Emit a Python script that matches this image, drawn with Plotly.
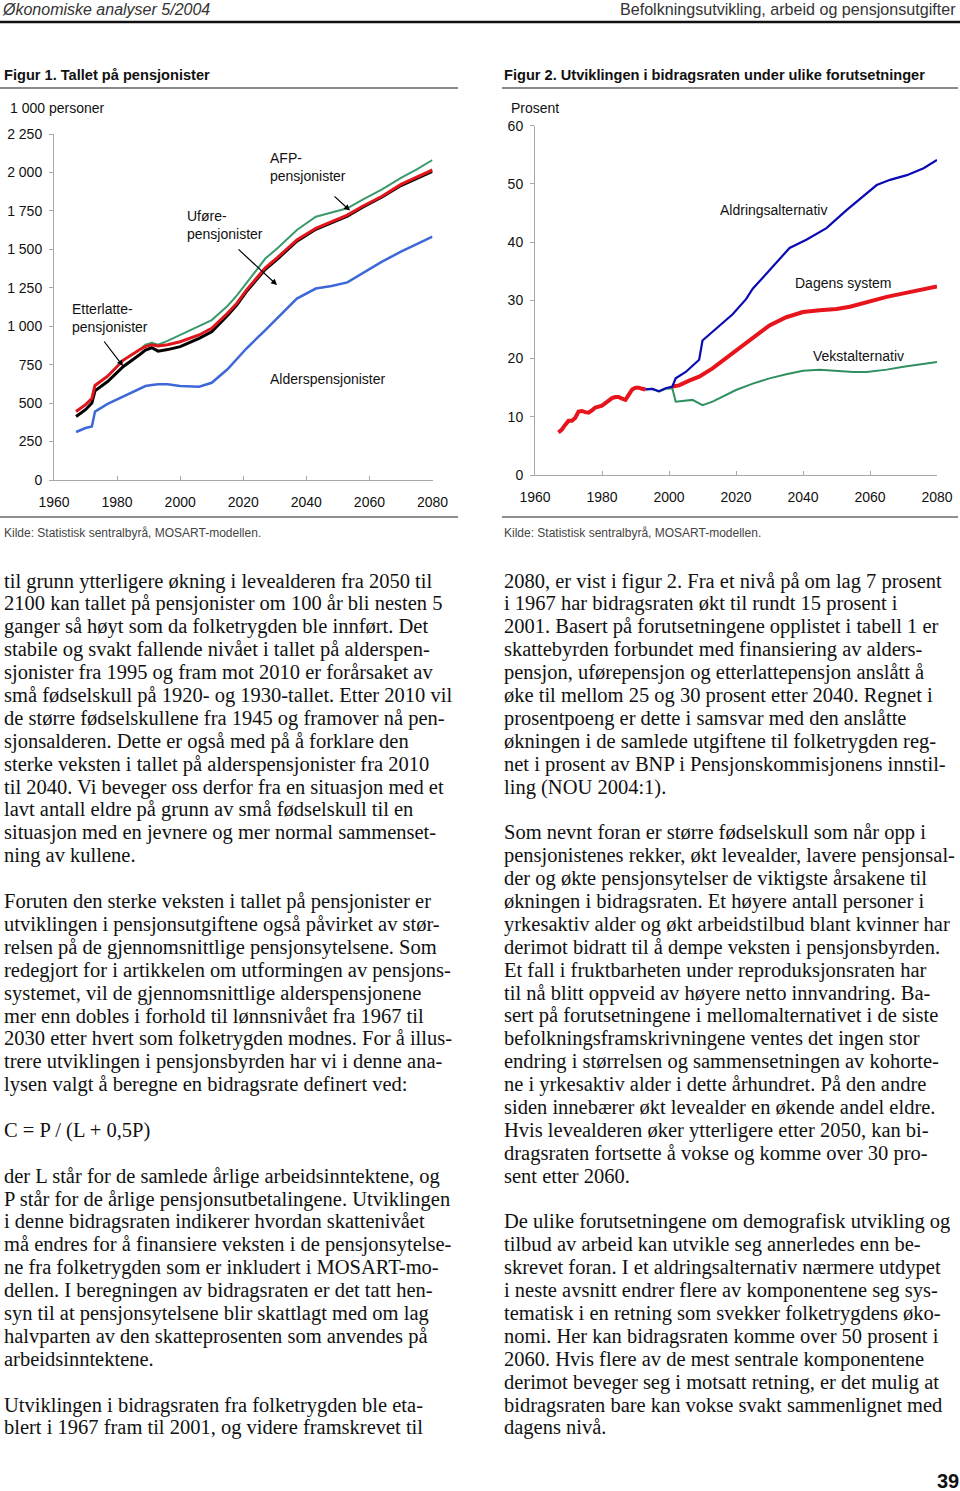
import plotly.graph_objects as go

W, H = 960, 1491

# ---------------- Figure 1 data (1000 persons, cumulative levels as drawn) ----------------
years1 = [1967, 1970, 1972, 1973, 1977, 1982, 1987, 1989, 1991, 1993, 1996, 2000, 2006, 2010,
          2015, 2018, 2021, 2027, 2031, 2037, 2043, 2048, 2053, 2058, 2064, 2070, 2075, 2080]
alders = [312, 338, 348, 445, 495, 545, 590, 611, 618, 622, 622, 612, 606, 632,
          720, 785, 855, 975, 1055, 1180, 1245, 1262, 1285, 1345, 1420, 1485, 1535, 1582]
ufore = [413, 457, 500, 580, 640, 738, 813, 845, 860, 838, 848, 867, 921, 964,
         1070, 1140, 1225, 1370, 1440, 1553, 1630, 1672, 1715, 1775, 1840, 1915, 1960, 2008]
etterlatte = [446, 490, 530, 615, 675, 780, 845, 868, 880, 872, 880, 899, 943, 986,
              1084, 1150, 1235, 1380, 1450, 1561, 1637, 1680, 1723, 1782, 1845, 1922, 1968, 2016]
afp = [446, 490, 530, 615, 675, 780, 845, 880, 893, 880, 905, 943, 997, 1040,
       1132, 1200, 1280, 1440, 1510, 1626, 1712, 1740, 1767, 1825, 1890, 1965, 2020, 2081]
ticks1 = [0, 250, 500, 750, 1000, 1250, 1500, 1750, 2000, 2250]
ticklabels1 = ["0", "250", "500", "750", "1 000", "1 250", "1 500", "1 750", "2 000", "2 250"]

# ---------------- Figure 2 data (percent) ----------------
years_dagens = [1967, 1968, 1969, 1970, 1971, 1972, 1973, 1974, 1975, 1976, 1977, 1978, 1980, 1981,
                1982, 1983, 1984, 1985, 1986, 1987, 1988, 1989, 1990, 1991, 1992, 1993, 1997,
                2001, 2003, 2006, 2009, 2013, 2020, 2025, 2030, 2035, 2040, 2045, 2050, 2054,
                2060, 2065, 2070, 2075, 2080]
dagens = [7.3, 7.8, 8.6, 9.3, 9.3, 9.8, 10.9, 11.0, 10.8, 10.7, 11.1, 11.6, 11.9, 12.3,
          12.9, 13.2, 13.4, 13.4, 13.1, 12.9, 13.8, 14.7, 15.0, 15.0, 14.8, 14.7, None,
          15.2, 15.4, 16.2, 16.9, 18.3, 21.4, 23.7, 25.7, 27.1, 28.0, 28.3, 28.5, 28.9,
          29.9, 30.6, 31.2, 31.8, 32.4]
years_aldring = [1993, 1995, 1997, 1999, 2001, 2002, 2005, 2009, 2010, 2013, 2019, 2023, 2025,
                 2031, 2036, 2041, 2047, 2053, 2058, 2062, 2066, 2071, 2076, 2080]
aldring = [14.7, 14.8, 14.4, 14.9, 15.2, 16.6, 17.7, 19.8, 23.1, 24.6, 27.6, 30.2, 32.0,
           35.8, 39.0, 40.4, 42.4, 45.5, 47.8, 49.8, 50.7, 51.5, 52.7, 54.1]
years_vekst = [1993, 1995, 1997, 1999, 2001, 2002, 2007, 2010, 2013, 2020, 2025, 2030, 2035,
               2040, 2045, 2050, 2055, 2059, 2065, 2070, 2075, 2080]
vekst = [14.7, 14.8, 14.3, 14.8, 14.9, 12.6, 12.9, 12.0, 12.6, 14.6, 15.7, 16.6, 17.3,
         17.9, 18.1, 17.9, 17.7, 17.7, 18.1, 18.6, 19.0, 19.4]
ticks2 = [0, 10, 20, 30, 40, 50, 60]
xticks = [1960, 1980, 2000, 2020, 2040, 2060, 2080]


def px(x):
    return x / W


def py(y):
    return 1 - y / H


SANS = "Liberation Sans, Arial, sans-serif"
SERIF = "Liberation Serif, Times New Roman, serif"

fig = go.Figure()

# Figure 1 traces
fig.add_trace(go.Scatter(x=years1, y=afp, mode="lines", line=dict(color="#3b9a6b", width=2),
                         xaxis="x", yaxis="y", showlegend=False))
fig.add_trace(go.Scatter(x=years1, y=alders, mode="lines", line=dict(color="#3e68d8", width=2.5),
                         xaxis="x", yaxis="y", showlegend=False))
fig.add_trace(go.Scatter(x=years1, y=ufore, mode="lines", line=dict(color="#000000", width=3),
                         xaxis="x", yaxis="y", showlegend=False))
fig.add_trace(go.Scatter(x=years1, y=etterlatte, mode="lines", line=dict(color="#e0161d", width=3),
                         xaxis="x", yaxis="y", showlegend=False))

# Figure 2 traces
fig.add_trace(go.Scatter(x=years_vekst, y=vekst, mode="lines", line=dict(color="#2f8f5f", width=2),
                         xaxis="x2", yaxis="y2", showlegend=False))
fig.add_trace(go.Scatter(x=years_dagens, y=dagens, mode="lines", connectgaps=False,
                         line=dict(color="#e8141c", width=4), xaxis="x2", yaxis="y2", showlegend=False))
fig.add_trace(go.Scatter(x=years_aldring, y=aldring, mode="lines", line=dict(color="#0a0ab4", width=2.2),
                         xaxis="x2", yaxis="y2", showlegend=False))

axis_common = dict(showgrid=False, zeroline=False, showline=True, linecolor="#a8a8a8", linewidth=1,
                   tickcolor="#a8a8a8", ticklen=4, tickfont=dict(family=SANS, size=14, color="#111"),
                   fixedrange=True, automargin=False)

fig.update_layout(
    width=W, height=H, autosize=False,
    margin=dict(l=0, r=0, t=0, b=0, pad=0, autoexpand=False),
    paper_bgcolor="white", plot_bgcolor="white",
    xaxis=dict(domain=[px(54), px(432.5)], range=[1960, 2080], anchor="y",
               tickvals=xticks, ticks="inside", ticklabelstandoff=9, **axis_common),
    yaxis=dict(domain=[py(480), py(134)], range=[0, 2250], anchor="x",
               tickvals=ticks1, ticktext=ticklabels1, ticks="outside", ticklabelstandoff=4,
               **axis_common),
    xaxis2=dict(domain=[px(535), px(937)], range=[1960, 2080], anchor="y2",
                tickvals=xticks, ticks="inside", ticklabelstandoff=9, **axis_common),
    yaxis2=dict(domain=[py(475), py(125.7)], range=[0, 60], anchor="x2",
                tickvals=ticks2, ticks="outside", ticklabelstandoff=4, **axis_common),
)

shapes = []
# header rule
shapes.append(dict(type="line", xref="paper", yref="paper", x0=0, x1=1, y0=py(22), y1=py(22),
                   line=dict(color="#111", width=2.5)))
for x0, x1 in [(0, 458), (502, 958)]:
    shapes.append(dict(type="line", xref="paper", yref="paper", x0=px(x0), x1=px(x1),
                       y0=py(88), y1=py(88), line=dict(color="#8a8a8a", width=2)))
    shapes.append(dict(type="line", xref="paper", yref="paper", x0=px(x0), x1=px(x1),
                       y0=py(517), y1=py(517), line=dict(color="#6a6a6a", width=1.5)))
fig.update_layout(shapes=shapes)


def text(x, y, s, size=14, family=SANS, color="#111", anchor="left", bold=False, italic=False):
    if bold:
        s = "<b>" + s + "</b>"
    if italic:
        s = "<i>" + s + "</i>"
    fig.add_annotation(x=px(x), y=py(y), xref="paper", yref="paper", text=s, showarrow=False,
                       xanchor=anchor, yanchor="middle", align=anchor,
                       font=dict(family=family, size=size, color=color))


def arrow(x_tail, y_tail, x_head, y_head):
    fig.add_annotation(x=px(x_head), y=py(y_head), xref="paper", yref="paper", text="",
                       showarrow=True, ax=x_tail - x_head, ay=y_tail - y_head,
                       arrowhead=2, arrowsize=1, arrowwidth=1.2, arrowcolor="#000")


# header
text(0, 9, "Økonomiske analyser 5/2004", size=16, color="#333", italic=True)
text(958, 9, "Befolkningsutvikling, arbeid og pensjonsutgifter", size=16.1, color="#333", anchor="right")

# figure titles
text(2, 75, "Figur 1. Tallet på pensjonister", size=14.6, bold=True)
text(502, 75, "Figur 2. Utviklingen i bidragsraten under ulike forutsetninger", size=14.6, bold=True)

# axis titles
text(8, 108, "1 000 personer", size=14)
text(509, 108, "Prosent", size=14)

# figure 1 labels
text(268, 158, "AFP-", size=14)
text(268, 176, "pensjonister", size=14)
text(185, 216, "Uføre-", size=14)
text(185, 234, "pensjonister", size=14)
text(70, 309, "Etterlatte-", size=14)
text(70, 327, "pensjonister", size=14)
text(268, 379, "Alderspensjonister", size=14)
arrow(333, 195, 350, 210.5)
arrow(237, 248, 277, 285)
arrow(103, 340, 123, 366)

# figure 2 labels
text(773, 210, "Aldringsalternativ", size=14, anchor="center")
text(843, 283, "Dagens system", size=14, anchor="center")
text(858, 356, "Vekstalternativ", size=14, anchor="center")

# sources
text(2, 533, "Kilde: Statistisk sentralbyrå, MOSART-modellen.", size=12, color="#444")
text(502, 533, "Kilde: Statistisk sentralbyrå, MOSART-modellen.", size=12, color="#444")

left_col = [
    "til grunn ytterligere økning i levealderen fra 2050 til",
    "2100 kan tallet på pensjonister om 100 år bli nesten 5",
    "ganger så høyt som da folketrygden ble innført. Det",
    "stabile og svakt fallende nivået i tallet på alderspen-",
    "sjonister fra 1995 og fram mot 2010 er forårsaket av",
    "små fødselskull på 1920- og 1930-tallet. Etter 2010 vil",
    "de større fødselskullene fra 1945 og framover nå pen-",
    "sjonsalderen. Dette er også med på å forklare den",
    "sterke veksten i tallet på alderspensjonister fra 2010",
    "til 2040. Vi beveger oss derfor fra en situasjon med et",
    "lavt antall eldre på grunn av små fødselskull til en",
    "situasjon med en jevnere og mer normal sammenset-",
    "ning av kullene.",
    "",
    "Foruten den sterke veksten i tallet på pensjonister er",
    "utviklingen i pensjonsutgiftene også påvirket av stør-",
    "relsen på de gjennomsnittlige pensjonsytelsene. Som",
    "redegjort for i artikkelen om utformingen av pensjons-",
    "systemet, vil de gjennomsnittlige alderspensjonene",
    "mer enn dobles i forhold til lønnsnivået fra 1967 til",
    "2030 etter hvert som folketrygden modnes. For å illus-",
    "trere utviklingen i pensjonsbyrden har vi i denne ana-",
    "lysen valgt å beregne en bidragsrate definert ved:",
    "",
    "C = P / (L + 0,5P)",
    "",
    "der L står for de samlede årlige arbeidsinntektene, og",
    "P står for de årlige pensjonsutbetalingene. Utviklingen",
    "i denne bidragsraten indikerer hvordan skattenivået",
    "må endres for å finansiere veksten i de pensjonsytelse-",
    "ne fra folketrygden som er inkludert i MOSART-mo-",
    "dellen. I beregningen av bidragsraten er det tatt hen-",
    "syn til at pensjonsytelsene blir skattlagt med om lag",
    "halvparten av den skatteprosenten som anvendes på",
    "arbeidsinntektene.",
    "",
    "Utviklingen i bidragsraten fra folketrygden ble eta-",
    "blert i 1967 fram til 2001, og videre framskrevet til",
]

right_col = [
    "2080, er vist i figur 2. Fra et nivå på om lag 7 prosent",
    "i 1967 har bidragsraten økt til rundt 15 prosent i",
    "2001. Basert på forutsetningene opplistet i tabell 1 er",
    "skattebyrden forbundet med finansiering av alders-",
    "pensjon, uførepensjon og etterlattepensjon anslått å",
    "øke til mellom 25 og 30 prosent etter 2040. Regnet i",
    "prosentpoeng er dette i samsvar med den anslåtte",
    "økningen i de samlede utgiftene til folketrygden reg-",
    "net i prosent av BNP i Pensjonskommisjonens innstil-",
    "ling (NOU 2004:1).",
    "",
    "Som nevnt foran er større fødselskull som når opp i",
    "pensjonistenes rekker, økt levealder, lavere pensjonsal-",
    "der og økte pensjonsytelser de viktigste årsakene til",
    "økningen i bidragsraten. Et høyere antall personer i",
    "yrkesaktiv alder og økt arbeidstilbud blant kvinner har",
    "derimot bidratt til å dempe veksten i pensjonsbyrden.",
    "Et fall i fruktbarheten under reproduksjonsraten har",
    "til nå blitt oppveid av høyere netto innvandring. Ba-",
    "sert på forutsetningene i mellomalternativet i de siste",
    "befolkningsframskrivningene ventes det ingen stor",
    "endring i størrelsen og sammensetningen av kohorte-",
    "ne i yrkesaktiv alder i dette århundret. På den andre",
    "siden innebærer økt levealder en økende andel eldre.",
    "Hvis levealderen øker ytterligere etter 2050, kan bi-",
    "dragsraten fortsette å vokse og komme over 30 pro-",
    "sent etter 2060.",
    "",
    "De ulike forutsetningene om demografisk utvikling og",
    "tilbud av arbeid kan utvikle seg annerledes enn be-",
    "skrevet foran. I et aldringsalternativ nærmere utdypet",
    "i neste avsnitt endrer flere av komponentene seg sys-",
    "tematisk i en retning som svekker folketrygdens øko-",
    "nomi. Her kan bidragsraten komme over 50 prosent i",
    "2060. Hvis flere av de mest sentrale komponentene",
    "derimot beveger seg i motsatt retning, er det mulig at",
    "bidragsraten bare kan vokse svakt sammenlignet med",
    "dagens nivå.",
]

LINE_H = 22.89
for col_x, lines in [(2, left_col), (502, right_col)]:
    for i, s in enumerate(lines):
        if s:
            text(col_x, 581 + i * LINE_H, s, size=20.5, family=SERIF, color="#111")

# page number
text(948, 1481, "39", size=20, bold=True, anchor="center")

fig.write_html("out.html", config={"displayModeBar": False},
               post_script="document.body.style.margin='0px';")
